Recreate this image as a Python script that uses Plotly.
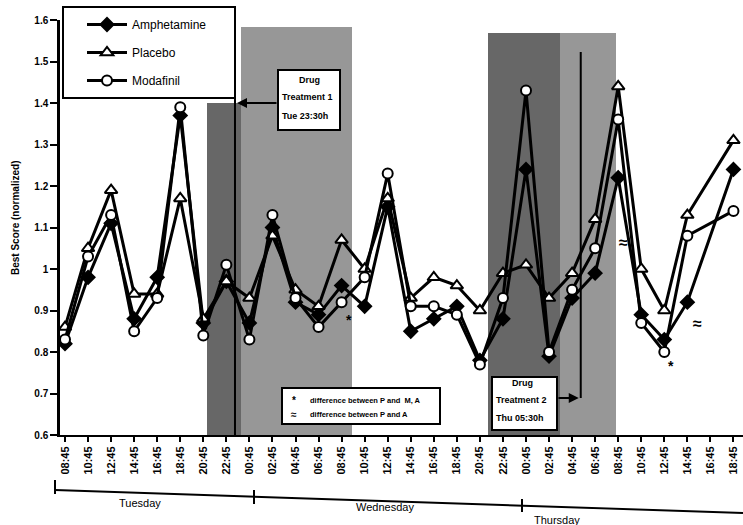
import plotly.graph_objects as go

# Sampling times, every two hours from Tuesday 08:45 to Thursday 18:45
times = ["08:45", "10:45", "12:45", "14:45", "16:45", "18:45", "20:45", "22:45",
         "00:45", "02:45", "04:45", "06:45", "08:45", "10:45", "12:45", "14:45",
         "16:45", "18:45", "20:45", "22:45",
         "00:45", "02:45", "04:45", "06:45", "08:45", "10:45", "12:45", "14:45",
         "16:45", "18:45"]
days = ["Tuesday", "Wednesday", "Thursday"]

# Normalized best scores per session (None = no session)
amphetamine = [0.82, 0.98, 1.11, 0.88, 0.98, 1.37, 0.87, 0.97, 0.87, 1.10,
               0.92, 0.89, 0.96, 0.91, 1.15, 0.85, 0.88, 0.91, 0.78, 0.88,
               1.24, 0.79, 0.93, 0.99, 1.22, 0.89, 0.83, 0.92, None, 1.24]
placebo = [0.86, 1.05, 1.19, 0.94, 0.94, 1.17, 0.88, 0.97, 0.93, 1.08,
           0.95, 0.91, 1.07, 1.00, 1.17, 0.93, 0.98, 0.96, 0.90, 0.99,
           1.01, 0.93, 0.99, 1.12, 1.44, 1.00, 0.90, 1.13, None, 1.31]
modafinil = [0.83, 1.03, 1.13, 0.85, 0.93, 1.39, 0.84, 1.01, 0.83, 1.13,
             0.93, 0.86, 0.92, 0.98, 1.23, 0.91, 0.91, 0.89, 0.77, 0.93,
             1.43, 0.80, 0.95, 1.05, 1.36, 0.87, 0.80, 1.08, None, 1.14]

idx = list(range(len(times)))

FONT = "Liberation Sans"
W, H = 743, 525
L, T, PW, PH = 60, 20, 683, 415
STEP = 23.05
X0 = -(65 - L) / STEP


def px(x):
    return (x - L) / PW


def py(y):
    return (T + PH - y) / PH


def ix(x):
    return X0 + (x - L) / STEP


fig = go.Figure()

series = [
    ("Amphetamine", amphetamine, "diamond", "black", 10),
    ("Placebo", placebo, "triangle-up", "white", 11),
    ("Modafinil", modafinil, "circle", "white", 10),
]
for name, vals, sym, fill, size in series:
    fig.add_trace(go.Scatter(
        x=idx, y=vals, name=name, legendgroup=name, mode="lines+markers",
        connectgaps=True,
        line=dict(color="black", width=3),
        marker=dict(symbol=sym, size=size, color=fill,
                    line=dict(color="black", width=2)),
    ))

shapes = []
# shaded night periods
for x0, x1, ytop, col in [(207, 241, 103, "#676767"), (241, 352, 27, "#979797"),
                          (488, 560, 33, "#676767"), (560, 616, 33, "#979797")]:
    shapes.append(dict(type="rect", xref="x", yref="paper", x0=ix(x0), x1=ix(x1),
                       y0=0, y1=py(ytop), fillcolor=col, line=dict(width=0),
                       layer="below"))

# drug administration times: Tue 23:30 and Thu 05:30
t1 = times.index("22:45") + 0.375
t2 = 20 + times[20:].index("04:45") + 0.375
shapes.append(dict(type="line", xref="x", yref="paper", x0=t1, x1=t1,
                   y0=0, y1=py(33), line=dict(color="black", width=2)))
shapes.append(dict(type="line", xref="x", yref="paper", x0=t2, x1=t2,
                   y0=py(398), y1=py(52), line=dict(color="black", width=2)))

# boxes: legend, treatment labels, significance key
for x0, y0, x1, y1 in [(63, 7, 235, 98), (278, 70, 340, 130),
                       (492, 377, 557, 430), (282, 388, 440, 424)]:
    shapes.append(dict(type="rect", xref="paper", yref="paper",
                       x0=px(x0), x1=px(x1), y0=py(y1), y1=py(y0),
                       fillcolor="white", line=dict(color="black", width=2),
                       layer="above"))

# day bracket under the time axis
shapes.append(dict(type="line", xref="paper", yref="paper",
                   x0=px(55), y0=py(490), x1=px(743), y1=py(513),
                   line=dict(color="black", width=2)))
for xb, ya, yb in [(55, 480, 494), (254, 490, 504), (522, 499, 512)]:
    shapes.append(dict(type="line", xref="paper", yref="paper",
                       x0=px(xb), x1=px(xb), y0=py(yb), y1=py(ya),
                       line=dict(color="black", width=2)))

ann = []


def text(x, y, s, size=9, bold=True, anchor="center", angle=0):
    ann.append(dict(xref="paper", yref="paper", x=px(x), y=py(y), text=s,
                    showarrow=False, xanchor=anchor, yanchor="middle",
                    textangle=angle,
                    font=dict(family=FONT, size=size, color="black",
                              weight="bold" if bold else "normal")))


text(309, 80, "Drug")
text(280, 97, "Treatment 1", anchor="left")
text(280, 116, "Tue 23:30h", anchor="left")
text(522, 383, "Drug")
text(494, 400, "Treatment 2", anchor="left")
text(494, 418, "Thu 05:30h", anchor="left")

text(294, 400, "*", size=10)
text(308, 400, "difference between P and  M, A", size=7.5, anchor="left")
text(294, 414, "≈", size=10)
text(308, 414, "difference between P and A", size=7.5, anchor="left")

text(349, 320, "*", size=14)
text(671, 366, "*", size=14)
text(623, 243, "≈", size=16)
text(697, 323, "≈", size=16)

text(16, 218, "Best Score (normalized)", size=10, angle=-90)

text(140, 503, days[0], size=11, bold=False)
text(385, 507, days[1], size=11, bold=False)
text(557, 520, days[2], size=11, bold=False)

# arrows from the treatment boxes to the dosing lines
x1_pix = L + (t1 - X0) * STEP
x2_pix = L + (t2 - X0) * STEP
ann.append(dict(xref="paper", yref="paper", x=px(x1_pix + 2), y=py(103), text="",
                showarrow=True, ax=278 - (x1_pix + 2), ay=0, arrowhead=2,
                arrowsize=1, arrowwidth=2, arrowcolor="black"))
ann.append(dict(xref="paper", yref="paper", x=px(x2_pix - 2), y=py(398), text="",
                showarrow=True, ax=557 - (x2_pix - 2), ay=0, arrowhead=2,
                arrowsize=1, arrowwidth=2, arrowcolor="black"))

fig.update_layout(
    width=W, height=H,
    margin=dict(l=L, r=W - L - PW, t=T, b=H - T - PH),
    paper_bgcolor="white", plot_bgcolor="white",
    font=dict(family=FONT, color="black"),
    shapes=shapes, annotations=ann,
    showlegend=True,
    legend=dict(x=px(82), y=py(10), xanchor="left", yanchor="top",
                bgcolor="rgba(0,0,0,0)", borderwidth=0,
                font=dict(family=FONT, size=12, color="black"),
                tracegroupgap=9, itemwidth=40),
    xaxis=dict(range=[X0, X0 + PW / STEP], tickmode="array", tickvals=idx,
               ticktext=times, tickangle=-90, ticks="outside", ticklen=5,
               tickwidth=2, tickcolor="black", showline=True, linewidth=2,
               linecolor="black", showgrid=False, zeroline=False,
               tickfont=dict(family=FONT, size=11, color="black", weight="bold")),
    yaxis=dict(range=[0.6, 1.6], tickmode="array",
               tickvals=[0.6, 0.7, 0.8, 0.9, 1.0, 1.1, 1.2, 1.3, 1.4, 1.5, 1.6],
               ticktext=["0.6", "0.7", "0.8", "0.9", "1", "1.1", "1.2", "1.3",
                         "1.4", "1.5", "1.6"],
               ticks="outside", ticklen=7, tickwidth=2, tickcolor="black",
               showline=True, linewidth=2.5, linecolor="black", showgrid=False,
               zeroline=False,
               tickfont=dict(family=FONT, size=10, color="black", weight="bold")),
)

fig.write_html("out.html")
